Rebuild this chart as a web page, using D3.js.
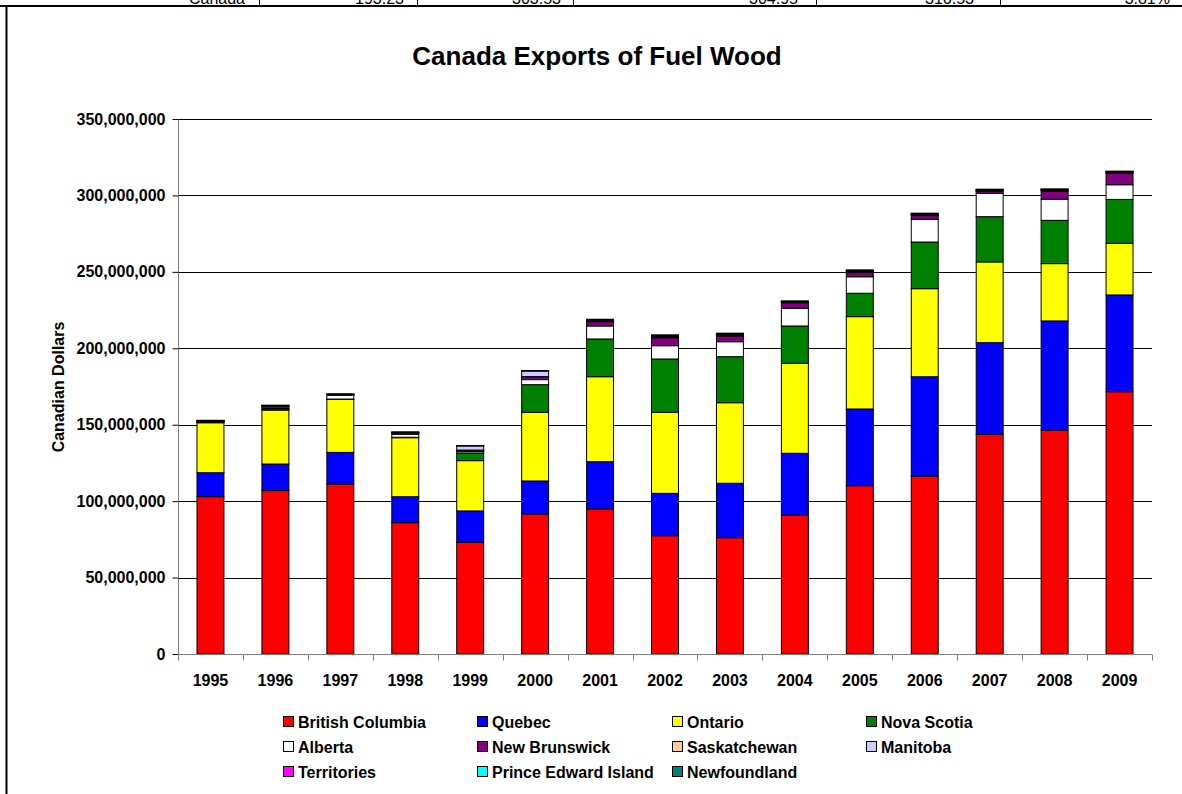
<!DOCTYPE html>
<html><head><meta charset="utf-8">
<script src="https://cdn.jsdelivr.net/npm/d3@7"></script>
<style>
html,body{margin:0;padding:0;background:#fff;}
svg{display:block;font-family:"Liberation Sans",Arial,sans-serif;}
</style></head>
<body>
<svg id="chart" width="1182" height="794"></svg>
<script>
// values in millions of Canadian dollars
const years = ["1995","1996","1997","1998","1999","2000","2001","2002","2003","2004","2005","2006","2007","2008","2009"];
const britishColumbia = [102.9,106.9,111.2,85.9,73.1,91.6,94.9,77.4,76.1,90.9,110.1,116.4,143.7,146.5,171.6];
const quebec          = [15.7,17.4,20.7,17.0,20.5,21.6,30.9,27.7,35.6,40.4,50.2,65.0,60.0,71.4,63.3];
const ontario         = [32.7,35.3,34.7,38.6,32.9,44.9,55.6,53.0,52.7,58.9,60.4,57.6,52.8,37.5,33.8];
const novaScotia      = [0.2,0.3,0.2,0.3,4.8,18.1,24.7,34.9,30.1,24.4,15.3,30.5,29.6,28.3,28.7];
const alberta         = [0.4,0.8,2.5,2.0,1.0,3.3,8.5,8.7,9.8,11.6,10.8,14.9,15.3,13.8,9.6];
const newBrunswick    = [0.5,1.2,0.4,0.9,1.0,1.9,2.8,5.2,3.7,3.6,2.7,2.4,1.3,5.4,7.5];
const saskatchewan    = [0.1,0.2,0.1,0.1,0.1,0.1,0.4,0.5,0.5,0.3,0.4,0.4,0.3,0.3,0.3];
const manitoba        = [0.1,0.3,0.1,0.2,2.8,3.7,0.5,0.6,0.6,0.4,0.6,0.5,0.5,0.5,0.5];
const territories     = [0.05,0.05,0.05,0.05,0.05,0.05,0.1,0.1,0.1,0.1,0.1,0.1,0.1,0.1,0.1];
const princeEdward    = [0.05,0.05,0.05,0.05,0.05,0.05,0.1,0.1,0.1,0.1,0.1,0.1,0.1,0.1,0.1];
const newfoundland    = [0.2,0.3,0.1,0.1,0.1,0.1,0.5,0.6,0.6,0.3,0.6,0.5,0.4,0.4,0.4];
const UNIT = 1e6;

const seriesNames  = ["British Columbia","Quebec","Ontario","Nova Scotia","Alberta","New Brunswick","Saskatchewan","Manitoba","Territories","Prince Edward Island","Newfoundland"];
const seriesValues = [britishColumbia,quebec,ontario,novaScotia,alberta,newBrunswick,saskatchewan,manitoba,territories,princeEdward,newfoundland];
const seriesColors = ["#FF0000","#0000FF","#FFFF00","#008000","#FFFFFF","#800080","#FFCC99","#CCCCFF","#FF00FF","#00FFFF","#008080"];
const yTicks = [0,50e6,100e6,150e6,200e6,250e6,300e6,350e6];

// top table strip (cut off)
const tableTexts = ["Canada","193.23","303.53","304.95","316.53","3.81%"];
const tableTextEnds = [245,404,561,798,974,1170];
const tableDividers = [259,417,573,816,1000];

const svg = d3.select("#chart");
const W = 1182, H = 794;
const plot = {left:178, right:1152, top:119, bottom:654};

// frame
svg.append("line").attr("x1",0).attr("x2",W).attr("y1",6).attr("y2",6).attr("stroke","#000").attr("stroke-width",2);
svg.append("line").attr("x1",6.5).attr("x2",6.5).attr("y1",6).attr("y2",H).attr("stroke","#000").attr("stroke-width",2);
tableDividers.forEach(x=>{
  svg.append("line").attr("x1",x+0.5).attr("x2",x+0.5).attr("y1",0).attr("y2",6).attr("stroke","#000").attr("stroke-width",1);
});
tableTexts.forEach((t,i)=>{
  svg.append("text").attr("x",tableTextEnds[i]).attr("y",3.5).attr("text-anchor","end")
    .attr("font-size",16).attr("fill","#000").text(t);
});

// data
const table = years.map((y,i)=>{
  const o = {year:y};
  seriesNames.forEach((n,k)=>{ o[n] = seriesValues[k][i]*UNIT; });
  return o;
});
const stack = d3.stack().keys(seriesNames)(table);

const x = d3.scaleBand().domain(years).range([plot.left,plot.right]).paddingInner(0).paddingOuter(0);
const y = d3.scaleLinear().domain([0,350e6]).range([plot.bottom,plot.top]);

// gridlines
svg.append("g").selectAll("line").data(yTicks.slice(1)).join("line")
  .attr("x1",plot.left).attr("x2",plot.right)
  .attr("y1",d=>Math.round(y(d))+0.5).attr("y2",d=>Math.round(y(d))+0.5)
  .attr("stroke","#000").attr("stroke-width",1);

// bars
const barW = x.bandwidth()*0.415;
const groups = svg.append("g").selectAll("g").data(stack).join("g")
  .attr("fill",(d,i)=>seriesColors[i]);
groups.selectAll("rect").data(d=>d).join("rect")
  .attr("x",d=>x(d.data.year)+(x.bandwidth()-barW)/2)
  .attr("width",barW)
  .attr("y",d=>y(d[1]))
  .attr("height",d=>Math.max(0,y(d[0])-y(d[1])))
  .attr("stroke","#000").attr("stroke-width",1);

// y axis
const yAxis = svg.append("g").attr("transform",`translate(${plot.left+0.5},0)`)
  .call(d3.axisLeft(y).tickValues(yTicks).tickFormat(d3.format(",")).tickSize(6).tickPadding(7));
yAxis.select(".domain").attr("stroke","#808080").attr("d",`M-0,${plot.top}V${plot.bottom}`);
yAxis.selectAll(".tick line").attr("stroke","#000");
yAxis.selectAll("text").attr("font-size",16).attr("font-weight","bold").attr("fill","#000")
  .attr("font-family","'Liberation Sans',Arial,sans-serif");

// x axis
const xAxis = svg.append("g").attr("transform",`translate(0,${plot.bottom+0.5})`)
  .call(d3.axisBottom(x).tickSize(0).tickPadding(20));
xAxis.select(".domain").attr("stroke","#808080").attr("d",`M${plot.left},0H${plot.right}`);
xAxis.selectAll("text").attr("font-size",16).attr("font-weight","bold").attr("fill","#000")
  .attr("font-family","'Liberation Sans',Arial,sans-serif");
// category separator ticks
const bounds = years.map(d=>x(d)).concat([plot.right]);
xAxis.append("g").selectAll("line").data(bounds).join("line")
  .attr("x1",d=>Math.round(d)+0.5).attr("x2",d=>Math.round(d)+0.5)
  .attr("y1",0).attr("y2",6).attr("stroke","#808080");

// title
svg.append("text").attr("x",597).attr("y",65).attr("text-anchor","middle")
  .attr("font-size",26).attr("font-weight","bold").text("Canada Exports of Fuel Wood");

// y title
svg.append("text").attr("transform","translate(64,387) rotate(-90)").attr("text-anchor","middle")
  .attr("font-size",16).attr("font-weight","bold").text("Canadian Dollars");

// legend
const legCols = [283,477,672,866], legRows = [722,747,772];
const leg = svg.append("g");
seriesNames.forEach((n,i)=>{
  const cx = legCols[i%4], cy = legRows[Math.floor(i/4)];
  leg.append("rect").attr("x",cx+0.5).attr("y",cy-5.5).attr("width",10).attr("height",10)
    .attr("fill",seriesColors[i]).attr("stroke","#000").attr("stroke-width",1);
  leg.append("text").attr("x",cx+15).attr("y",cy).attr("dy","0.36em")
    .attr("font-size",16).attr("font-weight","bold").text(n);
});
</script>
</body></html>
